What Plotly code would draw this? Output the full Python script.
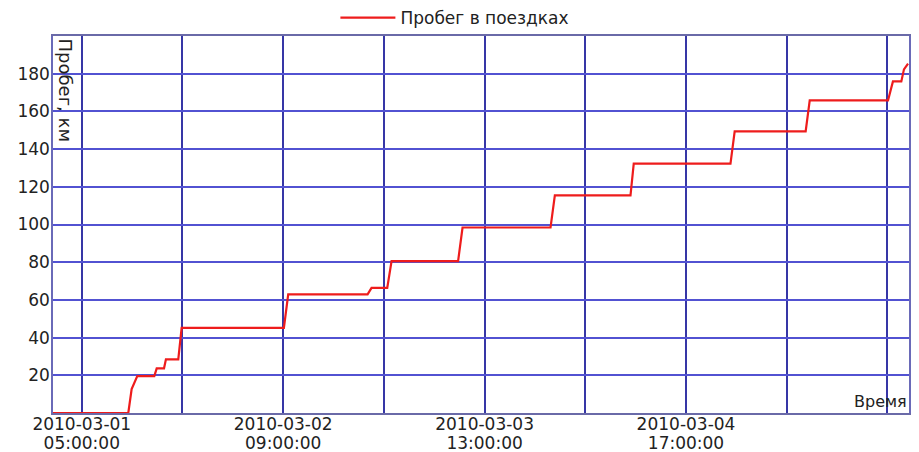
import plotly.graph_objects as go

# ---- data ----
times = [
    "2010-03-01 01:00", "2010-03-01 11:28", "2010-03-01 11:56", "2010-03-01 12:43",
    "2010-03-01 15:05", "2010-03-01 15:25", "2010-03-01 16:26", "2010-03-01 16:42",
    "2010-03-01 18:25", "2010-03-01 18:53", "2010-03-02 09:06", "2010-03-02 09:42",
    "2010-03-02 20:44", "2010-03-02 21:17", "2010-03-02 23:28", "2010-03-03 00:04",
    "2010-03-03 09:19", "2010-03-03 09:56", "2010-03-03 22:10", "2010-03-03 22:46",
    "2010-03-04 09:17", "2010-03-04 09:44", "2010-03-04 23:11", "2010-03-04 23:46",
    "2010-03-05 09:38", "2010-03-05 10:12", "2010-03-05 21:05", "2010-03-05 21:46",
    "2010-03-05 22:56", "2010-03-05 23:18", "2010-03-05 23:52",
]
mileage_km = [
    0, 0, 12.7, 19.6,
    19.6, 23.7, 23.7, 28.5,
    28.5, 45.2, 45.2, 62.9,
    62.9, 66.4, 66.4, 80.6,
    80.6, 98.4, 98.4, 115.5,
    115.5, 132.3, 132.3, 149.4,
    149.4, 165.8, 165.8, 175.9,
    175.9, 182.3, 185.3,
]
series_name = "Пробег в поездках"

x_tick_vals = [
    "2010-03-01 05:00", "2010-03-01 19:00", "2010-03-02 09:00", "2010-03-02 23:00",
    "2010-03-03 13:00", "2010-03-04 03:00", "2010-03-04 17:00", "2010-03-05 07:00",
    "2010-03-05 21:00",
]
x_tick_dates = ["2010-03-01", "", "2010-03-02", "", "2010-03-03", "", "2010-03-04", "", ""]
x_tick_hours = ["05:00:00", "", "09:00:00", "", "13:00:00", "", "17:00:00", "", ""]
y_tick_vals = [20, 40, 60, 80, 100, 120, 140, 160, 180]
x_range = ["2010-03-01 01:00", "2010-03-06 00:00"]
y_range = [0, 200]
y_title = "Пробег, км"
x_title = "Время"

FONT = "DejaVu Sans"
TXT = "#222222"

fig = go.Figure()
fig.add_trace(go.Scatter(
    x=times, y=mileage_km, mode="lines", name=series_name,
    line=dict(color="#ee1c1c", width=2.2),
))
# empty trace so the second (label-only) x axis gets drawn
fig.add_trace(go.Scatter(x=[], y=[], xaxis="x2", yaxis="y", showlegend=False,
                         hoverinfo="skip"))

fig.update_layout(
    width=919, height=452,
    margin=dict(l=53, r=10, t=35, b=39),
    paper_bgcolor="white", plot_bgcolor="white",
    font=dict(family=FONT, size=17, color=TXT),
    showlegend=True,
    legend=dict(orientation="h", xref="container", yref="container",
                x=0.495, xanchor="center", y=1.0, yanchor="top",
                itemwidth=55,
                font=dict(family=FONT, size=17, color=TXT),
                bgcolor="rgba(0,0,0,0)"),
    xaxis=dict(
        type="date", range=x_range, automargin=False,
        tickmode="array", tickvals=x_tick_vals, ticktext=x_tick_dates,
        showgrid=True, gridcolor="#3636a6", gridwidth=1.5,
        showline=True, linecolor="#6a6aa8", linewidth=1.5, mirror=True,
        ticks="", zeroline=False, ticklabelstandoff=-5,
        tickfont=dict(family=FONT, size=17, color=TXT),
    ),
    xaxis2=dict(
        type="date", range=x_range, automargin=False, overlaying="x",
        anchor="y", side="bottom",
        tickmode="array", tickvals=x_tick_vals, ticktext=x_tick_hours,
        showgrid=False, showline=False, zeroline=False, ticks="",
        ticklabelstandoff=18,
        tickfont=dict(family=FONT, size=17, color=TXT),
    ),
    yaxis=dict(
        range=y_range, automargin=False,
        tickmode="array", tickvals=y_tick_vals,
        showgrid=True, gridcolor="#5252d2", gridwidth=1.5,
        showline=True, linecolor="#6a6ab8", linewidth=1.5, mirror=True,
        ticks="", zeroline=False, ticklabelstandoff=-2,
        tickfont=dict(family=FONT, size=17, color=TXT),
    ),
    annotations=[
        dict(text=y_title, xref="paper", yref="paper", x=0.0, y=1.0,
             xanchor="left", yanchor="top", textangle=90, showarrow=False,
             font=dict(family=FONT, size=18, color=TXT)),
        dict(text=x_title, xref="paper", yref="paper", x=1.0, y=0.0,
             xanchor="right", yanchor="bottom", showarrow=False,
             font=dict(family=FONT, size=16, color=TXT)),
    ],
)

fig.write_html(
    "out.html",
    config={"displayModeBar": False},
    post_script="document.body.style.margin='0';document.body.style.overflow='hidden';",
)
